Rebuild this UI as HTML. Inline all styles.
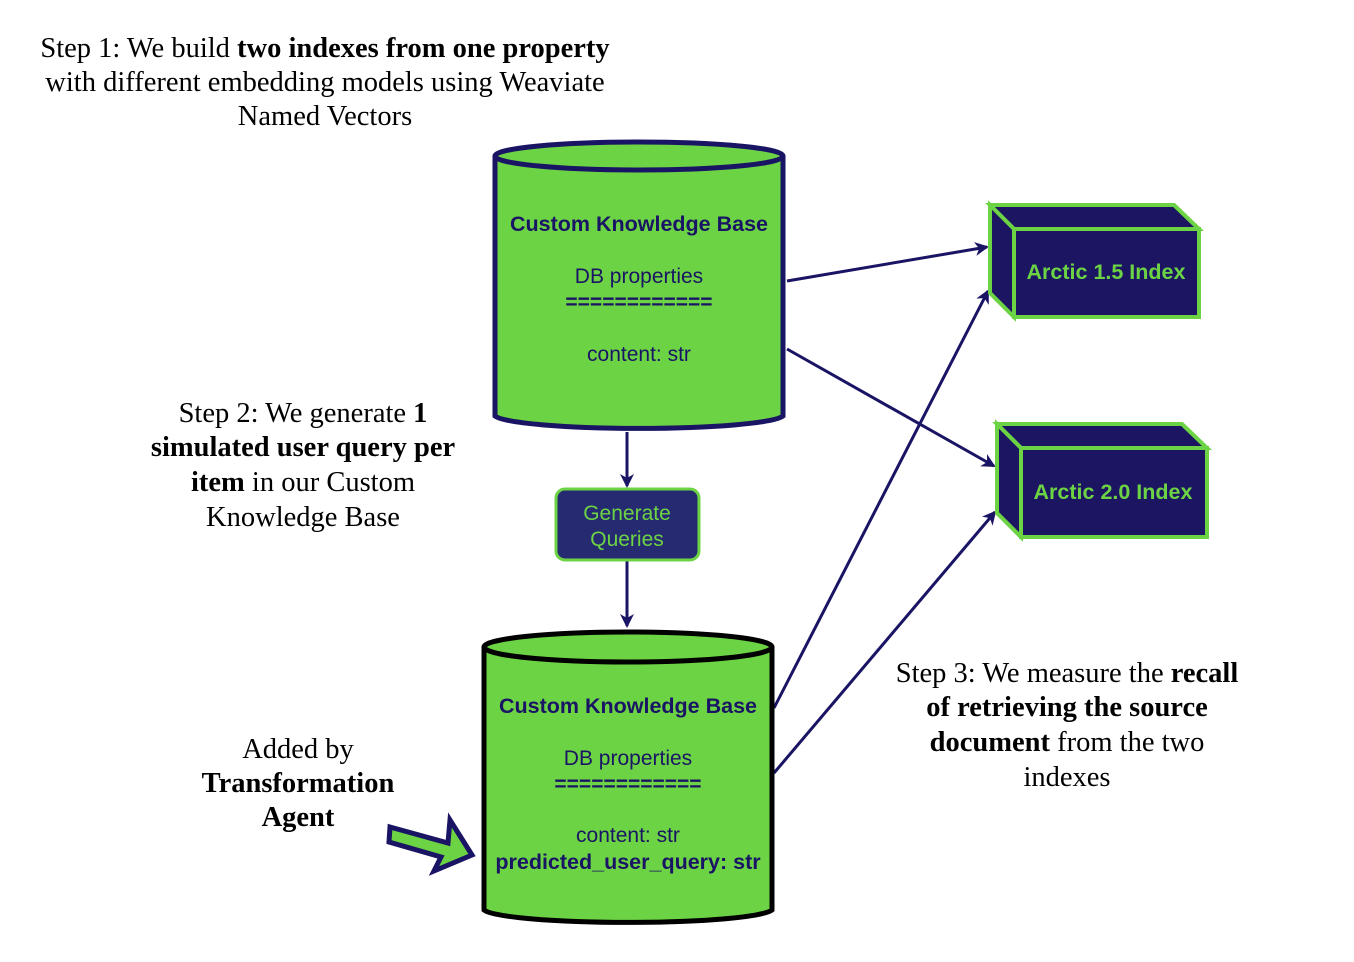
<!DOCTYPE html>
<html><head><meta charset="utf-8"><style>
html,body{margin:0;padding:0;background:#fff;}
svg{display:block}
.s{font-family:"Liberation Serif",serif;font-size:28.5px;fill:#000;text-anchor:middle}
.a{font-family:"Liberation Sans",sans-serif;text-anchor:middle;fill:#1a1464}
</style></head><body>
<svg width="1354" height="962" viewBox="0 0 1354 962" xmlns="http://www.w3.org/2000/svg">
<defs>
<marker id="ar" markerWidth="14" markerHeight="14" refX="12" refY="7" orient="auto" markerUnits="userSpaceOnUse" viewBox="0 0 14 14">
<path d="M0,0 L14,7 L0,14 L4,7 Z" fill="#1a1464"/></marker>
</defs>
<text class="s" x="325" y="57">Step 1: We build <tspan font-weight="bold">two indexes from one property</tspan></text>
<text class="s" x="325" y="91">with different embedding models using Weaviate</text>
<text class="s" x="325" y="125">Named Vectors</text>
<text class="s" x="303" y="422">Step 2: We generate <tspan font-weight="bold">1</tspan></text>
<text class="s" x="303" y="456" font-weight="bold">simulated user query per</text>
<text class="s" x="303" y="491"><tspan font-weight="bold">item</tspan> in our Custom</text>
<text class="s" x="303" y="526">Knowledge Base</text>
<text class="s" x="298" y="758">Added by</text>
<text class="s" x="298" y="792" font-weight="bold">Transformation</text>
<text class="s" x="298" y="826" font-weight="bold">Agent</text>
<text class="s" x="1067" y="682">Step 3: We measure the <tspan font-weight="bold">recall</tspan></text>
<text class="s" x="1067" y="716" font-weight="bold">of retrieving the source</text>
<text class="s" x="1067" y="751"><tspan font-weight="bold">document</tspan> from the two</text>
<text class="s" x="1067" y="786">indexes</text>

<g stroke="#1a1464" stroke-width="3" fill="none">
<line x1="627" y1="432" x2="627" y2="486" marker-end="url(#ar)"/>
<line x1="627" y1="561" x2="627" y2="626" marker-end="url(#ar)"/>
<line x1="787" y1="281" x2="987" y2="247" marker-end="url(#ar)"/>
<line x1="787" y1="349" x2="994" y2="466" marker-end="url(#ar)"/>
<line x1="774" y1="708" x2="988" y2="291" marker-end="url(#ar)"/>
<line x1="774" y1="773" x2="995" y2="512" marker-end="url(#ar)"/>
</g>

<path d="M495,156 L495,416 A145,14 0 0 0 783,416 L783,156" fill="#6cd444" stroke="#1a1464" stroke-width="5"/>
<ellipse cx="639" cy="156" rx="144" ry="14" fill="#6cd444" stroke="#1a1464" stroke-width="5"/>
<text class="a" x="639" y="231" font-size="21.5" font-weight="bold">Custom Knowledge Base</text>
<text class="a" x="639" y="283" font-size="21">DB properties</text>
<text class="a" x="639" y="309" font-size="21" font-weight="bold">============</text>
<text class="a" x="639" y="361" font-size="21">content: str</text>

<rect x="556" y="489" width="143" height="71" rx="9" fill="#262a70" stroke="#6cd444" stroke-width="3"/>
<text class="a" x="627" y="520" font-size="21" style="fill:#6cd444">Generate</text>
<text class="a" x="627" y="546" font-size="21" style="fill:#6cd444">Queries</text>

<path d="M484,647 L484,910 A145,14 0 0 0 772,910 L772,647" fill="#6cd444" stroke="#000" stroke-width="5"/>
<ellipse cx="628" cy="647" rx="144" ry="15" fill="#6cd444" stroke="#000" stroke-width="5"/>
<text class="a" x="628" y="713" font-size="21.5" font-weight="bold">Custom Knowledge Base</text>
<text class="a" x="628" y="765" font-size="21">DB properties</text>
<text class="a" x="628" y="791" font-size="21" font-weight="bold">============</text>
<text class="a" x="628" y="842" font-size="21">content: str</text>
<text class="a" x="628" y="869" font-size="21.5" font-weight="bold">predicted_user_query: str</text>

<polygon points="390,827 448,843 450,820 472,855 434,871 441,857 389,842" fill="#6cd444" stroke="#1a1464" stroke-width="5" stroke-linejoin="miter"/>

<g stroke="#6cd444" stroke-width="4" stroke-linejoin="miter">
<polygon points="990,205 1174,205 1199,229 1014,229" fill="#1c1562"/>
<polygon points="990,205 1014,229 1014,317 990,293" fill="#1c1562"/>
<rect x="1014" y="229" width="185" height="88" fill="#1c1562"/>
</g>
<text class="a" x="1106" y="279" font-size="21.5" font-weight="bold" style="fill:#6cd444">Arctic 1.5 Index</text>

<g stroke="#6cd444" stroke-width="4" stroke-linejoin="miter">
<polygon points="997,424 1182,424 1207,448 1021,448" fill="#1c1562"/>
<polygon points="997,424 1021,448 1021,537 997,513" fill="#1c1562"/>
<rect x="1021" y="448" width="186" height="89" fill="#1c1562"/>
</g>
<text class="a" x="1113" y="499" font-size="21.5" font-weight="bold" style="fill:#6cd444">Arctic 2.0 Index</text>
</svg>
</body></html>
